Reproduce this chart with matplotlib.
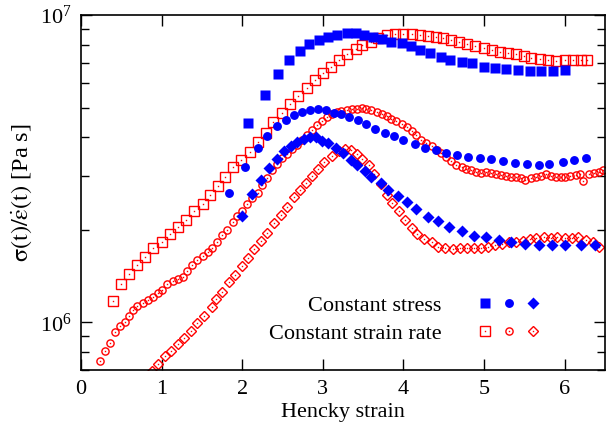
import matplotlib
matplotlib.use("Agg")
import matplotlib.pyplot as plt
from matplotlib.legend_handler import HandlerTuple
from matplotlib.ticker import LogLocator, NullFormatter

# constant stress (filled blue), viscosity in 1e6 Pa s
stress_sq_x = [2.07, 2.28, 2.44, 2.58, 2.72, 2.83, 2.95, 3.06, 3.17, 3.30,
               3.41, 3.51, 3.62, 3.73, 3.85, 3.98, 4.09, 4.21, 4.33, 4.46,
               4.58, 4.72, 4.85, 5.00, 5.14, 5.27, 5.42, 5.57, 5.70, 5.85,
               6.01]
stress_sq_y = [4.46, 5.50, 6.44, 7.14, 7.64, 8.05, 8.30, 8.48, 8.61, 8.74,
               8.74, 8.61, 8.48, 8.36, 8.17, 8.11, 7.93, 7.70, 7.53, 7.31,
               7.14, 7.04, 6.98, 6.78, 6.73, 6.68, 6.63, 6.58, 6.58, 6.58,
               6.63]

stress_ci_x = [1.84, 2.04, 2.19, 2.31, 2.43, 2.54, 2.64, 2.74, 2.84, 2.94,
               3.04, 3.14, 3.23, 3.33, 3.43, 3.54, 3.65, 3.77, 3.88, 4.00,
               4.14, 4.27, 4.40, 4.53, 4.67, 4.80, 4.95, 5.09, 5.23, 5.38,
               5.53, 5.68, 5.81, 5.98, 6.12, 6.27]
stress_ci_y = [2.64, 3.21, 3.69, 4.05, 4.36, 4.56, 4.74, 4.84, 4.92, 4.96,
               4.92, 4.81, 4.77, 4.67, 4.56, 4.42, 4.26, 4.14, 4.05, 3.93,
               3.81, 3.70, 3.65, 3.56, 3.51, 3.46, 3.43, 3.41, 3.36, 3.31,
               3.28, 3.26, 3.28, 3.33, 3.38, 3.43]

stress_di_x = [2.00, 2.12, 2.23, 2.33, 2.43, 2.52, 2.60, 2.68, 2.77, 2.84,
               2.91, 2.99, 3.07, 3.16, 3.25, 3.35, 3.42, 3.52, 3.60, 3.72,
               3.81, 3.93, 4.04, 4.16, 4.30, 4.43, 4.57, 4.72, 4.88, 5.02,
               5.19, 5.33, 5.51, 5.68, 5.84, 6.01, 6.20, 6.37]
stress_di_y = [2.22, 2.62, 2.91, 3.19, 3.41, 3.62, 3.75, 3.87, 3.96, 4.00,
               4.00, 3.90, 3.84, 3.70, 3.56, 3.38, 3.26, 3.11, 2.98, 2.85,
               2.70, 2.58, 2.46, 2.33, 2.21, 2.13, 2.05, 1.98, 1.91, 1.90,
               1.86, 1.83, 1.80, 1.79, 1.79, 1.79, 1.79, 1.79]

# constant strain rate (open red)
rate_sq_x = [0.40, 0.49, 0.59, 0.70, 0.80, 0.89, 1.00, 1.10, 1.20, 1.30,
             1.40, 1.51, 1.60, 1.70, 1.79, 1.88, 1.99, 2.10, 2.20, 2.30,
             2.38, 2.49, 2.59, 2.69, 2.80, 2.90, 3.00, 3.10, 3.20, 3.30,
             3.41, 3.49, 3.60, 3.69, 3.79, 3.89, 3.99, 4.10, 4.20, 4.30,
             4.40, 4.49, 4.59, 4.69, 4.79, 4.89, 5.00, 5.10, 5.20, 5.30,
             5.40, 5.49, 5.58, 5.69, 5.79, 5.89, 6.00, 6.10, 6.20, 6.28]
rate_sq_y = [1.17, 1.33, 1.44, 1.54, 1.63, 1.74, 1.83, 1.94, 2.05, 2.16,
             2.30, 2.42, 2.59, 2.77, 2.98, 3.21, 3.38, 3.59, 3.87, 4.12,
             4.49, 4.81, 5.14, 5.46, 5.79, 6.15, 6.49, 6.78, 7.14, 7.48,
             7.76, 7.99, 8.17, 8.42, 8.61, 8.67, 8.67, 8.67, 8.61, 8.54,
             8.48, 8.42, 8.30, 8.17, 8.05, 7.93, 7.81, 7.70, 7.58, 7.53,
             7.48, 7.36, 7.25, 7.20, 7.14, 7.09, 7.14, 7.14, 7.14, 7.14]

rate_ci_x = [0.23, 0.30, 0.36, 0.42, 0.48, 0.54, 0.60, 0.65, 0.70, 0.77,
             0.83, 0.89, 0.96, 1.01, 1.07, 1.14, 1.20, 1.26, 1.32, 1.38,
             1.44, 1.51, 1.57, 1.63, 1.69, 1.75, 1.81, 1.88, 1.94, 2.00,
             2.06, 2.12, 2.19, 2.25, 2.31, 2.37, 2.43, 2.49, 2.56, 2.62,
             2.68, 2.74, 2.80, 2.86, 2.93, 2.99, 3.05, 3.11, 3.17, 3.23,
             3.30, 3.36, 3.42, 3.48, 3.54, 3.60, 3.67, 3.73, 3.79, 3.85,
             3.91, 3.98, 4.04, 4.10, 4.16, 4.22, 4.28, 4.35, 4.41, 4.47,
             4.53, 4.59, 4.65, 4.72, 4.78, 4.84, 4.90, 4.96, 5.02, 5.09,
             5.15, 5.21, 5.27, 5.33, 5.40, 5.46, 5.51, 5.58, 5.64, 5.70,
             5.77, 5.83, 5.89, 5.95, 6.01, 6.07, 6.14, 6.19, 6.23, 6.30,
             6.36, 6.42, 6.48]
rate_ci_y = [0.748, 0.806, 0.855, 0.928, 0.970, 1.00, 1.05, 1.10, 1.13, 1.16,
             1.18, 1.21, 1.25, 1.27, 1.33, 1.36, 1.38, 1.41, 1.47, 1.54,
             1.60, 1.65, 1.70, 1.74, 1.83, 1.92, 2.00, 2.12, 2.22, 2.30,
             2.42, 2.53, 2.64, 2.79, 2.94, 3.12, 3.28, 3.43, 3.54, 3.67,
             3.78, 3.93, 4.08, 4.23, 4.39, 4.53, 4.67, 4.77, 4.84, 4.88,
             4.92, 4.96, 4.96, 5.00, 4.96, 4.92, 4.84, 4.77, 4.70, 4.60,
             4.53, 4.42, 4.33, 4.20, 4.08, 3.93, 3.84, 3.75, 3.65, 3.56,
             3.46, 3.36, 3.26, 3.21, 3.16, 3.14, 3.09, 3.07, 3.09, 3.07,
             3.04, 3.02, 3.00, 2.98, 2.98, 2.96, 2.91, 2.96, 2.98, 3.00,
             3.04, 3.00, 2.98, 2.98, 2.98, 3.00, 3.02, 3.04, 2.88, 3.04,
             3.07, 3.09, 3.14]

rate_di_x = [0.88, 0.95, 1.04, 1.12, 1.20, 1.28, 1.37, 1.44, 1.53, 1.62,
             1.68, 1.75, 1.84, 1.91, 2.00, 2.07, 2.15, 2.23, 2.31, 2.40,
             2.48, 2.56, 2.64, 2.72, 2.79, 2.86, 2.94, 3.02, 3.11, 3.20,
             3.27, 3.35, 3.42, 3.49, 3.57, 3.64, 3.72, 3.79, 3.86, 3.95,
             4.02, 4.10, 4.17, 4.26, 4.35, 4.43, 4.52, 4.62, 4.70, 4.79,
             4.88, 4.96, 5.05, 5.14, 5.22, 5.31, 5.40, 5.48, 5.57, 5.65,
             5.74, 5.83, 5.91, 6.00, 6.09, 6.17, 6.26, 6.35, 6.43]
rate_di_y = [0.695, 0.731, 0.776, 0.806, 0.849, 0.888, 0.935, 0.993, 1.05, 1.12,
             1.19, 1.26, 1.35, 1.43, 1.53, 1.62, 1.73, 1.84, 1.96, 2.10,
             2.24, 2.38, 2.55, 2.70, 2.85, 3.00, 3.16, 3.33, 3.48, 3.62,
             3.67, 3.65, 3.54, 3.41, 3.24, 3.04, 2.81, 2.60, 2.44, 2.30,
             2.16, 2.03, 1.94, 1.87, 1.82, 1.76, 1.75, 1.73, 1.74, 1.75,
             1.75, 1.75, 1.76, 1.79, 1.80, 1.82, 1.83, 1.84, 1.87, 1.88,
             1.90, 1.88, 1.90, 1.88, 1.88, 1.90, 1.86, 1.82, 1.76]

legend_labels = ["Constant stress", "Constant strain rate"]

plt.rcParams["font.family"] = ["Liberation Serif", "DejaVu Serif"]
plt.rcParams["mathtext.fontset"] = "stix"
FS = 16

RED = "#ff0000"
BLUE = "#0000ff"

fig = plt.figure(figsize=(6.07, 4.34), dpi=100)
ax = fig.add_axes([81 / 607, 1 - 370 / 434, 524 / 607, 355 / 434])


def mpas(v):
    return [a * 1e6 for a in v]


def open_pts(x, y, marker, ms):
    l1, = ax.plot(x, mpas(y), ls="none", marker=marker, ms=ms, mfc="none", mec=RED, mew=1.0)
    l2, = ax.plot(x, mpas(y), ls="none", marker="s", ms=1.0, mfc=RED, mec="none")
    return (l1, l2)


# red first, blue on top
h_rsq = open_pts(rate_sq_x, rate_sq_y, "s", 6.5)
h_rci = open_pts(rate_ci_x, rate_ci_y, "o", 5.2)
h_rdi = open_pts(rate_di_x, rate_di_y, "D", 5.2)

h_bsq, = ax.plot(stress_sq_x, mpas(stress_sq_y), ls="none", marker="s", ms=6.6, color=BLUE, mec="none")
h_bci, = ax.plot(stress_ci_x, mpas(stress_ci_y), ls="none", marker="o", ms=6.4, color=BLUE, mec="none")
h_bdi, = ax.plot(stress_di_x, mpas(stress_di_y), ls="none", marker="D", ms=5.8, color=BLUE, mec="none")

ax.set_yscale("log")
ax.set_xlim(0, 6.5)
ax.set_ylim(7e5, 1e7)
ax.set_xticks([0, 1, 2, 3, 4, 5, 6])
ax.yaxis.set_major_locator(LogLocator(base=10, numticks=10))
ax.yaxis.set_minor_locator(LogLocator(base=10, subs=range(2, 10), numticks=10))
ax.yaxis.set_minor_formatter(NullFormatter())
ax.tick_params(which="both", direction="in", top=True, right=True, labelsize=FS, width=1.0)
ax.tick_params(which="major", length=8, pad=7)
ax.tick_params(which="minor", length=6)
for s in ax.spines.values():
    s.set_linewidth(1.2)

ax.set_xlabel("Hencky strain", fontsize=FS, labelpad=3)
ax.set_ylabel(r"$\mathrm{\sigma(t)/\dot{\varepsilon}(t)}$ [Pa s]", fontsize=17.5, labelpad=4)

row1 = (h_bsq, h_bci, h_bdi)
row2 = (h_rsq, h_rci, h_rdi)
ax.legend([row1, row2], legend_labels, loc="lower right", bbox_to_anchor=(0.924, 0.017),
          frameon=False, markerfirst=False, numpoints=1, fontsize=FS,
          handlelength=3.25, handletextpad=1.4, labelspacing=0.34,
          handler_map={row1: HandlerTuple(ndivide=None, pad=0),
                       row2: HandlerTuple(ndivide=None, pad=0)})

fig.savefig("out.png", dpi=100)
